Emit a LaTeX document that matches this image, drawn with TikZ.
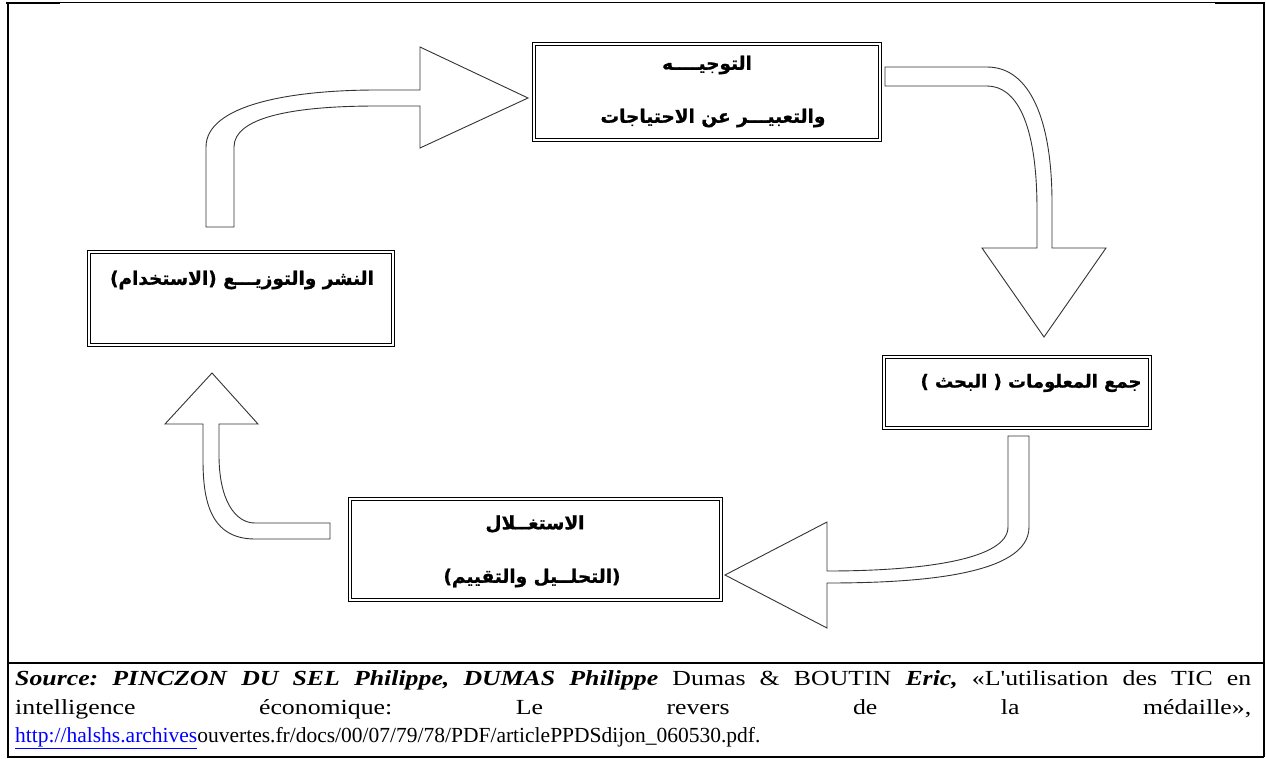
\documentclass[tikz,border=0pt]{standalone}
\usepackage{fontspec}
\setmainfont{Liberation Serif}
\newfontfamily\widefont[FakeStretch=1.2]{Liberation Serif}
\newfontfamily\arfont[Script=Arabic, BoldFeatures={FakeBold=1}]{DejaVu Sans}
\TeXXeTstate=1
\begin{document}
\begin{tikzpicture}[x=1pt,y=-1pt,
  stagebox/.style={draw=black, line width=1.1pt, double=white, double distance=1.6pt,
    fill=white, inner sep=0pt},
  artext/.style={inner sep=0pt, font=\arfont\bfseries\fontsize{18.5}{21}\selectfont},
  blockarrow/.style={draw=black!80, line width=0.9pt, fill=white, line join=miter},
  srcline/.style={inner sep=0pt, anchor=base west, font=\frenchspacing\fontsize{21.5}{28.5}\selectfont}]
\useasboundingbox (0,0) rectangle (1266,758);

% outer frame of the figure table
\draw[line width=1pt] (7,2.5) -- (1264,2.5);
\draw[line width=2.5pt] (6,3) -- (60,3);
\draw[line width=2.5pt] (1215,3) -- (1265,3);
\draw[line width=2pt] (7.5,2) -- (7.5,757);
\draw[line width=2.5pt] (1264,2) -- (1264,757);
\draw[line width=2pt] (7,663) -- (1264,663);
\draw[line width=2pt] (7,756.5) -- (1264,756.5);

% the four stages of the cycle
\node[stagebox, minimum width=346pt, minimum height=96pt] (orient) at (707,92) {};
\node[stagebox, minimum width=266pt, minimum height=71pt] (collect) at (1017,392.5) {};
\node[stagebox, minimum width=371pt, minimum height=101pt] (exploit) at (535.5,549.5) {};
\node[stagebox, minimum width=304pt, minimum height=93pt] (diffuse) at (241,298.5) {};

\node[artext] (orient1) at (707,65) {\beginR التوجيــــه\endR};
\node[artext] (orient2) at (713,118) {\beginR والتعبيـــر عن الاحتياجات\endR};
\node[artext, font=\arfont\bfseries\fontsize{18}{21}\selectfont] (collect1) at (1031,383) {\beginR جمع المعلومات ( البحث )\endR};
\node[artext] (exploit1) at (535,524) {\beginR الاستغــلال\endR};
\node[artext] (exploit2) at (532,578) {\beginR (التحلــيل والتقييم)\endR};
\node[artext] (diffuse1) at (242,280) {\beginR النشر والتوزيـــع (الاستخدام)\endR};

% curved block arrows between the stages
% diffusion -> orientation
\draw[blockarrow] (206,227) -- (206,147)
  .. controls (206,105) and (290,90) .. (377,90) -- (420,90) -- (420,47)
  -- (528,98) -- (420,148) -- (420,106) -- (377,106)
  .. controls (290,106) and (234,118) .. (234,147) -- (234,227) -- cycle;
% orientation -> collection
\draw[blockarrow] (885,67) -- (987,67)
  .. controls (1030,67) and (1052,120) .. (1052,203) -- (1052,248) -- (1106,248)
  -- (1044,337) -- (982,248) -- (1037,248) -- (1037,210)
  .. controls (1037,120) and (1015,86) .. (987,86) -- (885,86) -- cycle;
% collection -> exploitation
\draw[blockarrow] (1008,436) -- (1029,436) -- (1029,527)
  .. controls (1029,575) and (920,583) .. (827,583) -- (827,628)
  -- (725,575) -- (827,522) -- (827,571)
  .. controls (920,571) and (1008,560) .. (1008,527) -- cycle;
% exploitation -> diffusion
\draw[blockarrow] (330,523) -- (330,539) -- (255,539)
  .. controls (210,539) and (203,500) .. (203,460) -- (203,424) -- (165,424)
  -- (212,373) -- (258,424) -- (219,424) -- (219,455)
  .. controls (219,500) and (235,523) .. (255,523) -- cycle;

% source note
\node[srcline] (src1) at (15,685) {\widefont\makebox[1236pt][s]{\textbf{\textit{Source: PINCZON DU SEL Philippe, DUMAS Philippe}} Dumas \& BOUTIN \textbf{\textit{Eric,}} «L'utilisation des TIC en}};
\node[srcline] (src2) at (15,714) {\widefont\makebox[1236pt][s]{intelligence économique: Le revers de la médaille»,}};
\node[srcline] (src3) at (15,742) {\textcolor{blue}{\underline{http://halshs.archives}}ouvertes.fr/docs/00/07/79/78/PDF/articlePPDSdijon\_060530.pdf.};
\end{tikzpicture}
\end{document}
